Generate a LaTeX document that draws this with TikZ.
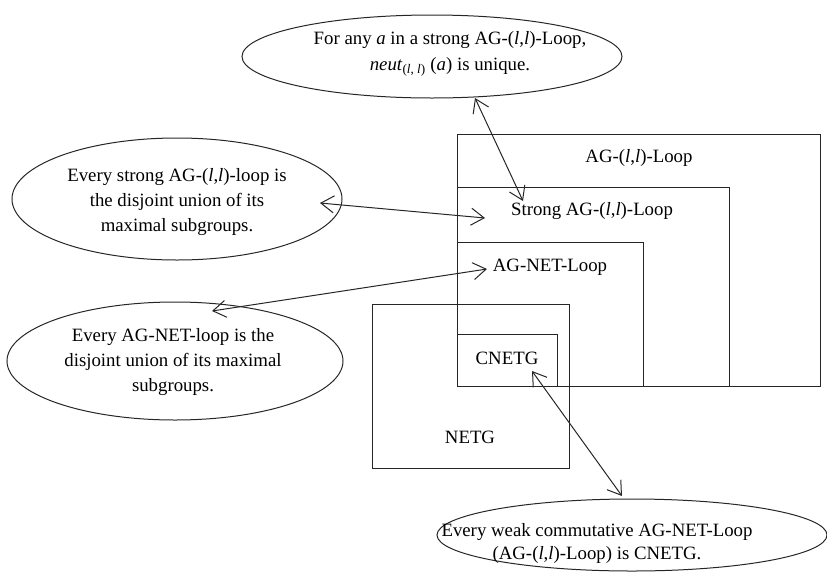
\documentclass[tikz,border=0pt]{standalone}
\usepackage{fontspec}
\setmainfont{Liberation Serif}
\usetikzlibrary{shapes.geometric,arrows.meta}
\begin{document}
\begin{tikzpicture}[x=1pt,y=-1pt,
  line/.style={draw=black!85,line width=1pt},
  bubble/.style={line,ellipse,inner sep=0pt,outer sep=0pt},
  setbox/.style={line},
  lbl/.style={font=\fontsize{18.8}{25}\selectfont,inner sep=0pt,text=black},
  btxt/.style={lbl,align=center},
  link/.style={line,{Straight Barb[length=13pt,width=17pt]}-{Straight Barb[length=13pt,width=17pt]}}
]
\useasboundingbox (0,0) rectangle (827,571);

% nested set boxes
\draw[setbox] (457,134) rectangle (820,386);
\draw[setbox] (457,187) rectangle (729,386);
\draw[setbox] (457,242) rectangle (643,386);
\draw[setbox] (372,304) rectangle (569,468);
\draw[setbox] (457,334) rectangle (557,386);

\node[lbl] (agll) at (639,158) {AG-(\textit{l},\textit{l})-Loop};
\node[lbl] (strong) at (592,211) {Strong AG-(\textit{l},\textit{l})-Loop};
\node[lbl] (agnet) at (550,267) {AG-NET-Loop};
\node[lbl] (cnetg) at (507,358) {CNETG};
\node[lbl] (netg) at (470,437) {NETG};

% ellipses
\node[bubble,minimum width=380pt,minimum height=83pt] (e1) at (432,56.5) {};
\node[btxt,font=\fontsize{18.8}{26}\selectfont] (t1) at (450,54) {For any \textit{a} in a strong AG-(\textit{l},\textit{l})-Loop,\\ \textit{neut}\textsubscript{(\textit{l}, \textit{l})} (\textit{a}) is unique.};

\node[bubble,minimum width=330pt,minimum height=122pt] (e2) at (177,199) {};
\node[btxt] (t2) at (177,202) {Every strong AG-(\textit{l},\textit{l})-loop is\\ the disjoint union of its\\ maximal subgroups.};

\node[bubble,minimum width=336pt,minimum height=118pt] (e3) at (175,361) {};
\node[btxt] (t3) at (173,362) {Every AG-NET-loop is the\\ disjoint union of its maximal\\ subgroups.};

\node[bubble,minimum width=390pt,minimum height=72pt] (e4) at (632,535) {};
\node[btxt,font=\fontsize{18.8}{23}\selectfont] (t4) at (597,543) {Every weak commutative AG-NET-Loop\\ (AG-(\textit{l},\textit{l})-Loop) is CNETG.};

% connector end points
\coordinate (p1a) at (475,98);
\coordinate (p1b) at (523,201);
\coordinate (p2a) at (320,203);
\coordinate (p2b) at (485,218);
\coordinate (p3a) at (212,311);
\coordinate (p3b) at (487,269);
\coordinate (p4a) at (532,371);
\coordinate (p4b) at (622,496);

\draw[link] (p1a) -- (p1b);
\draw[link] (p2a) -- (p2b);
\draw[link] (p3a) -- (p3b);
\draw[link] (p4a) -- (p4b);
\end{tikzpicture}
\end{document}
